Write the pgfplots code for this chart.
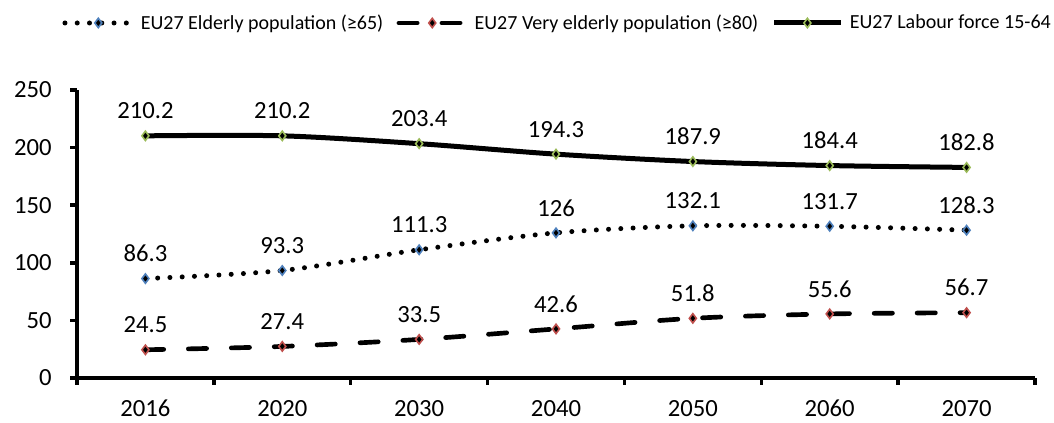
\documentclass[border=0pt]{standalone}
\usepackage{pgfplots}
\pgfplotsset{compat=1.18}
\usepackage{fontspec}
\setmainfont{Carlito}
\definecolor{cblue}{HTML}{4F81BD}
\definecolor{cred}{HTML}{C0504D}
\definecolor{cgreen}{HTML}{9BBB59}
\begin{document}
\begin{tikzpicture}
\begin{axis}[
 at={(0,0)}, anchor=south west,
 scale only axis, width=718.5pt, height=216pt,
 xmin=-0.5, xmax=6.5, ymin=0, ymax=250,
 axis x line*=bottom, axis y line*=left,
 axis line style={line width=2.6pt, black},
 xtick={0,...,6}, xticklabels={2016,2020,2030,2040,2050,2060,2070},
 minor xtick={-0.5,0.5,...,6.5},
 ytick={0,50,...,250},
 tick align=outside, major tick length=5pt, minor tick length=5pt,
 tick style={black, line width=2.6pt},
 major x tick style={draw=none},
 /pgf/number format/assume math mode=true,
 tick label style={font=\fontsize{18.5}{20}\selectfont, inner sep=0pt},
 yticklabel style={anchor=east, xshift=-13.75pt},
 xticklabel style={anchor=base, yshift=-24pt},
 nodes near coords,
 every node near coord/.append style={font=\fontsize{18.5}{20}\selectfont, anchor=center, yshift=18.75pt, black},
 clip=false,
 legend columns=3,
 legend style={at={(0.5,1)}, anchor=center, yshift=50.25pt, xshift=3pt, draw=none, fill=none,
   font=\fontsize{15}{17}\selectfont, inner sep=0pt,
   /tikz/every even column/.append style={column sep=5pt},
   nodes={inner xsep=5pt}},
 legend image code/.code={
   \draw[mark repeat=2, mark phase=2, #1] plot coordinates {(0pt,0pt) (25pt,0pt) (50pt,0pt)};
 },
]
\addplot[black, line width=3.75pt, line cap=round, dash pattern=on 0pt off 9.2pt,
  smooth, tension=0.5, mark=diamond*, mark size=3.5pt,
  mark options={solid, draw=cblue, fill=black, line width=1.2pt}]
  coordinates {(0,86.3) (1,93.3) (2,111.3) (3,126) (4,132.1) (5,131.7) (6,128.3)};
\addlegendentry{EU27 Elderly population (≥65)}
\addplot[black, line width=3.5pt, line cap=round, dash pattern=on 13.7pt off 18.5pt,
  smooth, tension=0.5, mark=diamond*, mark size=3.5pt,
  mark options={solid, draw=cred, fill=black, line width=1.2pt}]
  coordinates {(0,24.5) (1,27.4) (2,33.5) (3,42.6) (4,51.8) (5,55.6) (6,56.7)};
\addlegendentry{EU27 Very elderly population (≥80)}
\addplot[black, line width=3.75pt,
  smooth, tension=0.5, mark=diamond*, mark size=3.5pt,
  mark options={solid, draw=cgreen, fill=black, line width=1.2pt}]
  coordinates {(0,210.2) (1,210.2) (2,203.4) (3,194.3) (4,187.9) (5,184.4) (6,182.8)};
\addlegendentry{EU27 Labour force 15-64}
\end{axis}
\pgfresetboundingbox
\path[use as bounding box] (-57.75pt,-33.75pt) rectangle (732.75pt,283.5pt);
\end{tikzpicture}
\end{document}
